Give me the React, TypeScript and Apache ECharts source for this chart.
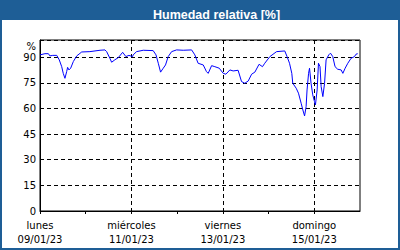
import React, { useEffect, useRef } from "react";
import * as echarts from "echarts";

// hours since Monday 09/01/23 00:00
const hours = [
  0, 2.6, 4.4, 5.2, 6.7, 8.8, 10.1, 11.4, 12.2, 13.1, 14.0, 14.5, 15.2, 16.1, 17.5, 19.3, 21.9,
  26.2, 31.5, 34.1, 35.0, 36.7, 37.6, 39.3, 41.1, 43.4, 45.1, 46.7, 48.6, 48.9, 50.7, 54.2,
  59.4, 60.9, 62.1, 63.3, 64.7, 65.9, 67.3, 69.1, 71.7, 75.2, 79.6, 81.3, 83.0, 85.7, 87.4,
  88.3, 90.1, 91.8, 94.1, 96.2, 97.6, 99.7, 101.4, 104.0, 105.8, 107.5, 109.3, 111.1, 112.8,
  115.0, 116.8, 118.0, 120.7, 124.2, 128.5, 129.7, 131.0, 132.2, 132.7, 134.5, 135.7, 137.1,
  138.0, 138.9, 139.7, 140.2, 141.0, 141.5, 142.3, 143.2, 144.1, 144.6, 145.5, 146.2, 147.0,
  147.6, 148.5, 149.4, 150.2, 151.6, 152.5, 153.7, 154.9, 156.3, 158.1, 159.0, 160.2, 161.6,
  163.3, 165.1, 165.9, 166.8,
];
const humidity = [
  91.3, 92, 92, 90.7, 91, 91, 88.4, 84.4, 80.5, 77.6, 81.5, 84, 82.5, 83.5, 87.4, 90.7, 93,
  93.2, 94, 94.2, 93.2, 89.3, 87, 88.4, 89.7, 92.8, 90.3, 91, 90.3, 91.3, 93.2, 94,
  93.8, 91.3, 86.4, 81.2, 83.5, 85.4, 90.3, 93.2, 94.2, 94, 94.2, 91.3, 86.4, 85.4, 81.5,
  80.5, 85, 84.4, 83.5, 80.5, 80, 82.5, 81.9, 82.3, 75.7, 74.7, 76, 80, 81.2,
  85.8, 84.4, 86.4, 90.3, 93.2, 93.6, 90.3, 86.4, 80.5, 74.7, 71.8, 68.9, 63,
  59.1, 55.6, 61, 70.8, 80.5, 83.5, 74.7, 67.9, 64, 62, 70.8, 86.4, 84.4,
  72.7, 66.9, 74.7, 88.4, 91.3, 92.3, 90.3, 84.4, 82.9, 82.5, 80.5, 83.5, 86.4,
  89.3, 90.3, 91.7, 92,
];
const dayNames = ["lunes", "martes", "miércoles", "jueves", "viernes", "sábado", "domingo", "lunes"];
const dayDates = ["09/01/23", "10/01/23", "11/01/23", "12/01/23", "13/01/23", "14/01/23", "15/01/23", "16/01/23"];
const yTicks = [0, 15, 30, 45, 60, 75, 90];

const BLUE = "#1e5e96";
const FONT = "DejaVu Sans";

export default function App() {
  const ref = useRef<HTMLDivElement>(null);
  useEffect(() => {
    if (!ref.current) return;
    const chart = echarts.init(ref.current, null, { renderer: "svg" });
    chart.setOption({
      animation: false,
      backgroundColor: "#ffffff",
      title: {
        text: "Humedad relativa [%]",
        left: 148,
        top: 3,
        textStyle: { color: "#ffffff", fontFamily: "Liberation Sans", fontWeight: "bold", fontSize: 12.5 },
      },
      graphic: [
        { type: "rect", z: -10, shape: { x: 0, y: 0, width: 400, height: 20 }, style: { fill: BLUE } },
        { type: "rect", z: -10, shape: { x: 1, y: 1, width: 398, height: 248 }, style: { fill: "none", stroke: BLUE, lineWidth: 2 } },
        { type: "text", x: 36, y: 46, style: { text: "%", fill: "#000", font: `10px "${FONT}"`, align: "right", verticalAlign: "middle" } },
      ],
      grid: { left: 40, top: 40, right: 40, bottom: 39, show: true, borderColor: "#000", borderWidth: 1, backgroundColor: "#fff" },
      xAxis: {
        type: "value",
        min: 0,
        max: 168,
        interval: 24,
        axisLine: { show: true, lineStyle: { color: "#000", width: 1 } },
        axisTick: { show: true, length: 3, lineStyle: { color: "#000" } },
        splitLine: { show: true, lineStyle: { color: ["#000", "rgba(0,0,0,0)"], type: [4, 3], width: 1 } },
        axisLabel: {
          color: "#000",
          fontFamily: FONT,
          fontSize: 10,
          lineHeight: 14,
          margin: 7,
          showMaxLabel: false,
          formatter: (v: number) => {
            const i = Math.round(v / 24);
            if (i % 2 !== 0 || i >= 7) return "";
            return dayNames[i] + "\n" + dayDates[i];
          },
        },
      },
      yAxis: {
        type: "value",
        min: 0,
        max: 100,
        interval: 15,
        axisLine: { show: true, lineStyle: { color: "#000", width: 1 } },
        axisTick: { show: false },
        splitLine: { show: true, lineStyle: { color: "#000", type: [4, 3], width: 1 } },
        axisLabel: {
          color: "#000",
          fontFamily: FONT,
          fontSize: 10,
          margin: 4,
          formatter: (v: number) => (yTicks.indexOf(v) >= 0 ? String(v) : ""),
        },
      },
      series: [
        {
          type: "line",
          data: hours.map((h, i) => [h, humidity[i]]),
          showSymbol: false,
          lineStyle: { color: "#0000ff", width: 1 },
          itemStyle: { color: "#0000ff" },
        },
      ],
    });
    return () => chart.dispose();
  }, []);
  return <div ref={ref} style={{ width: 400, height: 250, position: "absolute", left: 0, top: 0 }} />;
}
